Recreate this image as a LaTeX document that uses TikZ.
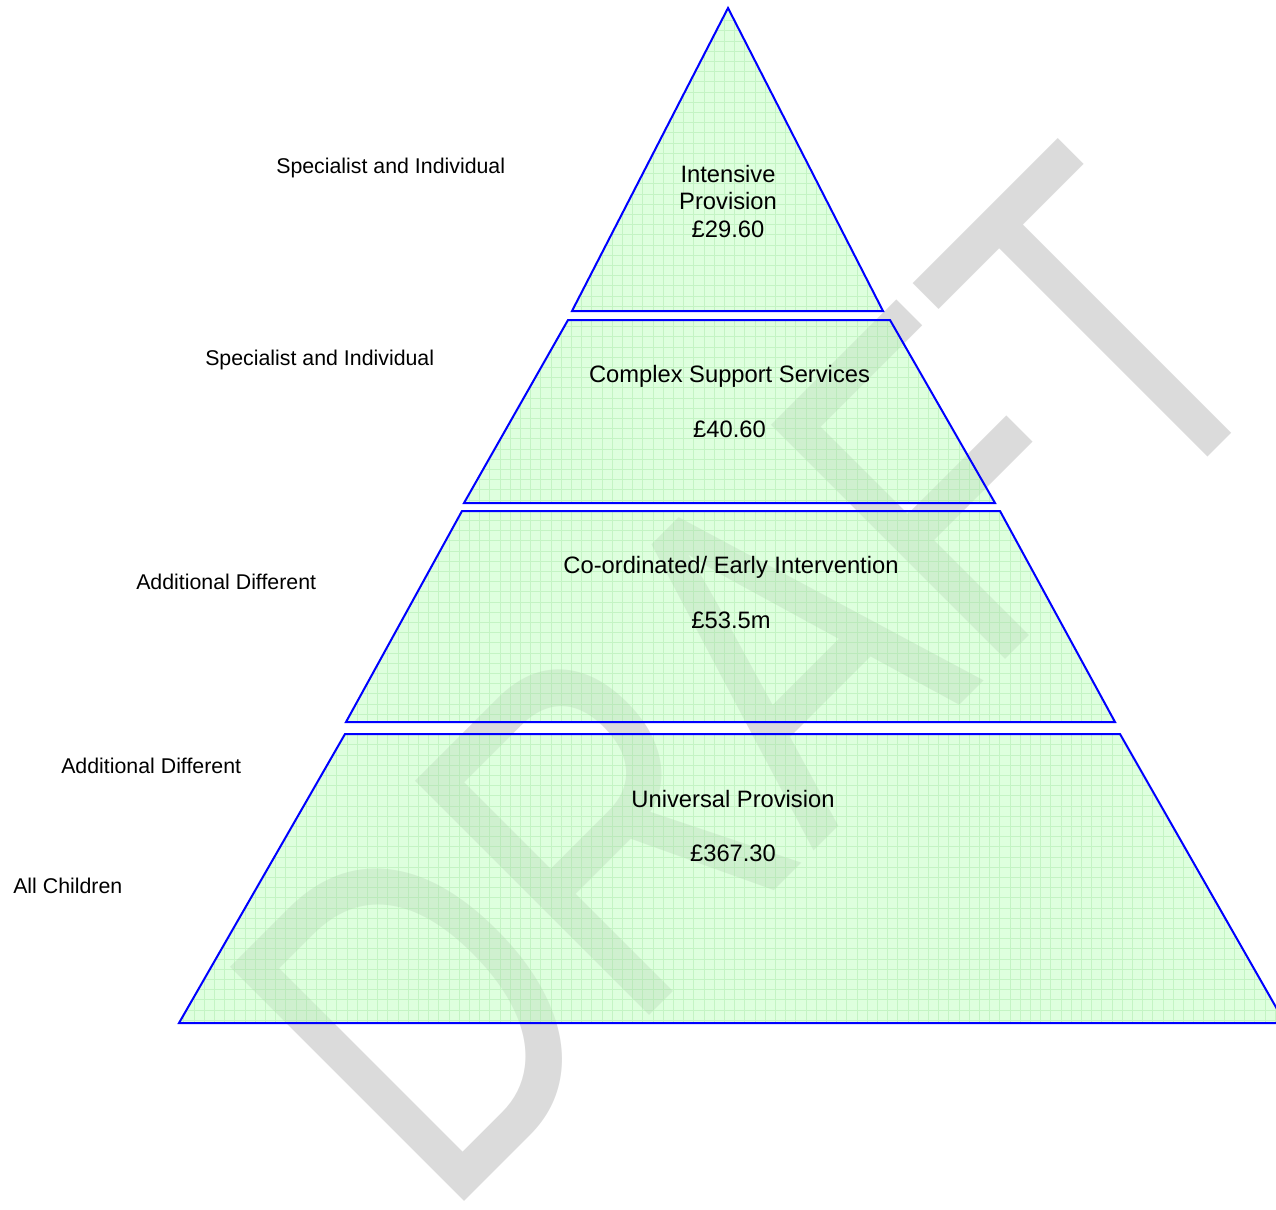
\documentclass[tikz,border=0pt]{standalone}
\usepackage{fontspec}
\setmainfont{Liberation Sans}
\definecolor{tiergreen}{RGB}{200,255,200}
\definecolor{gridgreen}{RGB}{150,225,150}
\definecolor{markgrey}{RGB}{219,219,219}

\begin{document}
\begin{tikzpicture}[x=0.75pt, y=-0.75pt, every node/.style={inner sep=0pt},
        tier/.style={draw=blue, line width=1.5pt},
        tierfill/.style={fill=tiergreen, fill opacity=.6},
        tiergrid/.style={draw=gridgreen, line width=.4pt, opacity=.35},
        tiertext/.style={align=center, font=\fontsize{17.8}{20.6}\selectfont},
        sidetext/.style={anchor=base west, font=\fontsize{16}{19}\selectfont}]
    \useasboundingbox (0,0) rectangle (1276,1209);
    % watermark behind the pyramid
    \node[rotate=45, xscale=.754, text=markgrey, font=\fontsize{361}{361}\selectfont] (draft) at (753.7,677.3) {DRAFT};
    % the four tiers, top to bottom
    \foreach \t in {{(728,8) -- (883,311) -- (572,311)},
                    {(568,320) -- (890,320) -- (995,503) -- (464,503)},
                    {(462,511) -- (1000,511) -- (1115,722) -- (346,722)},
                    {(345,734) -- (1120,734) -- (1285,1023) -- (179,1023)}}{
        \begin{scope}
            \clip \t -- cycle;
            \fill[tierfill] (0,0) rectangle (1300,1209);
            \draw[tiergrid, step=7.65pt] (0,0) grid (1300,1209);
        \end{scope}
        \draw[tier] \t -- cycle;
    }
    \node[tiertext] (intensive) at (728,201.5) {Intensive\\Provision\\£29.60};
    \node[tiertext] (complex) at (729.5,401.5) {Complex Support Services\\[20.6pt]£40.60};
    \node[tiertext] (coord) at (731,592.5) {Co-ordinated/ Early Intervention\\[20.6pt]£53.5m};
    \node[tiertext] (universal) at (733,826) {Universal Provision\\[20.6pt]£367.30};
    % needs down the left side
    \node[sidetext] (spec1) at (276,173) {Specialist and Individual};
    \node[sidetext] (spec2) at (205,365) {Specialist and Individual};
    \node[sidetext] (addl1) at (136,589) {Additional Different};
    \node[sidetext] (addl2) at (61,773) {Additional Different};
    \node[sidetext] (allch) at (13,893) {All Children};
\end{tikzpicture}
\end{document}
